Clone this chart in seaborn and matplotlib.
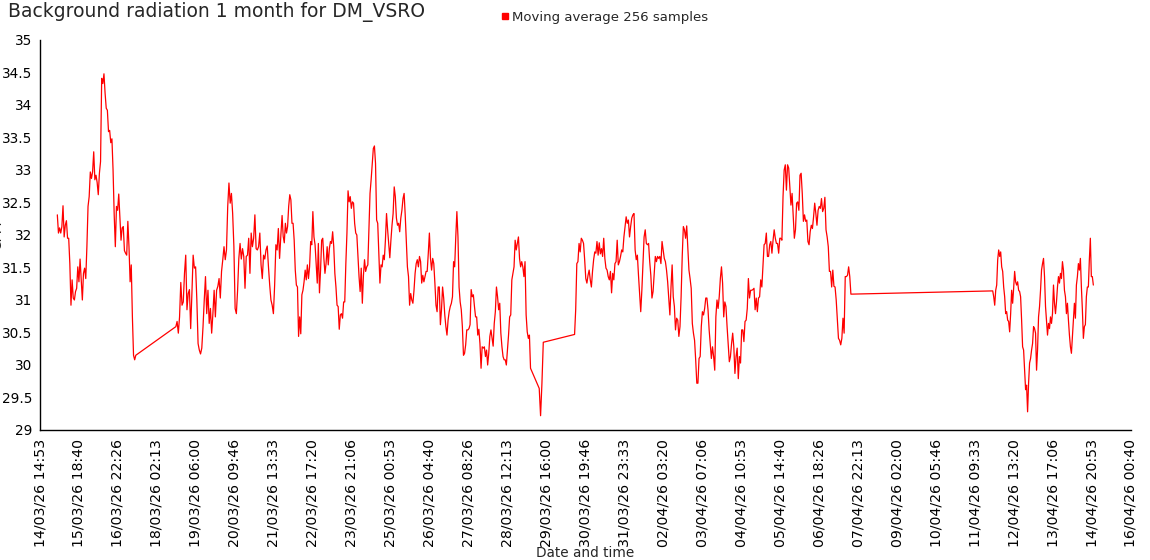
import numpy as np
import pandas as pd
import matplotlib
matplotlib.use("Agg")
import matplotlib.pyplot as plt
import matplotlib.dates as mdates
from matplotlib.lines import Line2D
import seaborn as sns

# ---------------- data ----------------
title = "Background radiation 1 month for DM_VSRO"
series_name = "Moving average 256 samples"
x_label = "Date and time"
y_label = "CPM"

# recording pieces (start, end) - samples evenly spaced in each piece
piece_starts = ["2026-03-15 03:14", "2026-03-18 15:44", "2026-03-21 18:41",
                "2026-03-29 10:47", "2026-03-30 11:59", "2026-04-05 14:59",
                "2026-04-11 22:05"]
piece_ends = ["2026-03-17 11:11", "2026-03-21 17:41", "2026-03-29 04:35",
              "2026-03-29 13:41", "2026-04-05 14:17", "2026-04-07 16:59",
              "2026-04-14 21:49"]

cpm_a = [32.31, 32.03, 32.11, 32.03, 32.13, 32.45, 31.97, 32.15, 32.22, 31.95, 31.95, 31.56, 30.92, 31.31,
         31.03, 31.0, 31.13, 31.18, 31.51, 31.28, 31.63, 31.31, 31.0, 31.41, 31.49, 31.33, 31.82, 32.44,
         32.59, 32.97, 32.87, 32.97, 33.28, 32.85, 32.92, 32.81, 32.62, 32.95, 33.13, 34.41, 34.33, 34.48,
         34.18, 33.95, 33.92, 33.59, 33.61, 33.42, 33.48, 33.0, 32.31, 31.82, 32.44, 32.38, 32.63, 32.28,
         31.92, 32.11, 32.13, 31.76, 31.72, 31.69, 32.21, 31.82, 31.28, 31.54, 30.74, 30.15, 30.08, 30.15]

cpm_b = [30.59, 30.67, 30.49, 30.74, 31.27, 30.92, 30.97, 31.41, 31.69, 30.85, 31.1, 31.16, 30.56, 31.1,
         31.69, 31.49, 31.51, 31.0, 30.33, 30.23, 30.17, 30.26, 30.59, 31.0, 31.36, 30.79, 31.15, 30.64,
         30.87, 30.49, 30.79, 31.15, 30.74, 31.15, 31.21, 31.33, 31.03, 31.44, 31.62, 31.82, 31.62, 31.77,
         32.44, 32.8, 32.49, 32.64, 32.33, 31.82, 30.87, 30.79, 31.15, 31.64, 31.87, 31.63, 31.79, 31.67,
         31.18, 31.67, 31.69, 31.95, 31.41, 32.03, 31.82, 31.95, 32.31, 31.79, 31.77, 31.82, 32.03, 31.54,
         31.33, 31.69, 31.63, 31.77, 31.83, 31.51, 31.23, 31.0, 30.92, 30.79, 31.23, 31.85, 31.77, 32.1, 31.64]

cpm_c = [32.03, 32.3, 31.98, 31.88, 32.18, 32.03, 32.13, 32.44, 32.62, 32.54, 32.18, 32.18, 31.92, 31.46,
         31.23, 31.2, 30.44, 30.74, 30.48, 31.08, 31.15, 31.28, 31.46, 31.31, 31.54, 31.33, 31.51, 31.9,
         31.85, 32.36, 31.97, 31.85, 31.56, 31.26, 31.87, 31.11, 31.46, 31.92, 31.95, 31.64, 31.41, 31.56,
         31.82, 31.54, 31.79, 31.9, 31.87, 32.05, 31.82, 31.41, 31.2, 30.92, 30.9, 30.55, 30.77, 30.79,
         30.72, 30.97, 30.97, 31.56, 32.03, 32.68, 32.51, 32.59, 32.41, 32.51, 32.49, 32.18, 32.03, 32.0,
         31.67, 31.36, 31.13, 31.49, 30.95, 31.38, 31.62, 31.44, 31.51, 31.54, 32.08, 32.64, 32.85, 33.1,
         33.33, 33.37, 33.1, 32.23, 32.18, 31.74, 31.26, 31.54, 31.51, 31.69, 31.62, 31.92, 32.33, 32.08,
         31.87, 31.65, 31.92, 32.15, 32.33, 32.74, 32.59, 32.26, 32.15, 32.18, 32.05, 32.26, 32.38, 32.56,
         32.64, 32.31, 31.92, 31.51, 31.36, 30.92, 31.1, 31.0, 30.95, 31.15, 31.41, 31.56, 31.62, 31.51,
         31.67, 31.59, 31.26, 31.38, 31.28, 31.36, 31.44, 31.44, 31.72, 32.03, 31.64, 31.46, 31.64, 31.56,
         31.26, 30.92, 30.82, 31.2, 31.2, 30.62, 30.85, 31.2, 31.03, 30.77, 30.59, 30.46, 30.69, 30.82,
         30.9, 30.95, 31.05, 31.59, 31.51, 31.97, 32.36, 31.97, 31.2, 30.97, 30.85, 30.59, 30.15, 30.18,
         30.31, 30.54, 30.54, 30.56, 30.62, 31.16, 31.05, 31.08, 30.9, 30.74, 30.74, 30.46, 30.55, 30.33,
         29.95, 30.28, 30.26, 30.28, 30.13, 30.23, 30.0, 30.18, 30.44, 30.54, 30.41, 30.29, 30.64, 30.82,
         31.2, 31.05, 30.85, 30.95, 30.49, 30.28, 30.13, 30.08, 30.08, 30.0, 30.23, 30.46, 30.74, 30.77,
         31.31, 31.41, 31.51, 31.92, 31.77, 31.87, 31.97, 31.64, 31.51, 31.59, 31.51, 31.36, 31.59, 30.77,
         30.51, 30.41, 30.46, 29.95]

cpm_d = [29.64, 29.22, 29.72, 30.35]

cpm_e = [30.47, 30.85, 31.56, 31.59, 31.87, 31.74, 31.95, 31.92, 31.87, 31.62, 31.33, 31.26, 31.38, 31.46,
         31.31, 31.2, 31.44, 31.62, 31.74, 31.72, 31.9, 31.69, 31.88, 31.71, 31.79, 31.67, 31.95, 31.64,
         31.49, 31.46, 31.36, 31.31, 31.44, 31.11, 31.41, 31.31, 31.56, 31.59, 31.92, 31.54, 31.59, 31.67,
         31.77, 31.74, 31.97, 32.13, 32.28, 32.18, 32.23, 31.97, 32.13, 32.26, 32.31, 32.33, 31.77, 31.62,
         31.69, 31.38, 31.11, 30.82, 31.15, 31.56, 31.97, 32.08, 31.87, 31.85, 31.87, 31.59, 31.38, 31.03,
         31.13, 31.41, 31.67, 31.59, 31.67, 31.64, 31.67, 31.56, 31.9, 31.77, 31.64, 31.59, 31.46, 31.28,
         31.03, 30.77, 31.2, 31.54, 31.05, 30.9, 30.54, 30.72, 30.69, 30.44, 30.59, 31.05, 31.67, 32.13,
         32.08, 31.95, 32.14, 31.79, 31.46, 31.33, 31.18, 30.64, 30.49, 30.38, 30.08, 29.72, 29.72, 30.1,
         30.13, 30.59, 30.82, 30.77, 30.87, 31.03, 31.03, 30.85, 30.54, 30.33, 30.1, 30.28, 30.13, 29.92,
         30.74, 31.0, 30.87, 31.05, 31.33, 31.51, 31.26, 30.74, 30.97, 30.9, 30.59, 30.33, 30.05, 30.13,
         30.33, 30.49, 30.28, 29.87, 30.13, 30.26, 29.79, 30.13, 30.03, 30.54, 30.54, 30.36, 30.67, 30.69,
         30.87, 31.33, 31.03, 31.15, 31.15, 31.16, 31.18, 30.85, 31.03, 30.82, 31.03, 31.05, 31.31, 31.2,
         31.51, 31.85, 31.87, 32.03, 31.67, 31.67, 31.85, 31.9, 31.72, 31.92, 32.08, 31.95, 31.87, 31.87,
         31.72, 31.95]

cpm_f = [31.95, 31.92, 32.59, 33.0, 33.08, 32.69, 33.08, 33.03, 32.74, 32.46, 32.64, 32.28, 31.95, 32.08,
         32.49, 32.51, 32.38, 32.92, 32.95, 32.64, 32.21, 32.31, 32.21, 32.23, 31.9, 31.85, 32.05, 32.15,
         32.1, 32.28, 32.49, 32.33, 32.15, 32.38, 32.44, 32.41, 32.56, 32.36, 32.41, 32.58, 32.08, 31.97,
         31.82, 31.44, 31.44, 31.2, 31.46, 31.21, 31.2, 31.0, 30.69, 30.41, 30.38, 30.31, 30.41, 30.72,
         30.49, 31.36, 31.36, 31.38, 31.51, 31.36, 31.09]

cpm_g = [31.14, 31.05, 30.92, 31.15, 31.23, 31.62, 31.77, 31.67, 31.74, 31.51, 31.44, 31.2, 31.05, 30.79,
         30.82, 30.69, 30.67, 30.51, 30.79, 31.15, 30.95, 31.18, 31.44, 31.28, 31.23, 31.28, 31.15, 31.13,
         31.05, 30.69, 30.28, 30.23, 29.92, 29.62, 29.69, 29.28, 29.72, 30.03, 30.1, 30.23, 30.33, 30.59,
         30.56, 30.49, 29.92, 30.23, 30.74, 30.9, 31.15, 31.46, 31.56, 31.64, 31.36, 30.9, 30.67, 30.46,
         30.64, 30.56, 30.74, 30.64, 30.79, 31.23, 30.95, 30.79, 30.97, 31.2, 31.36, 31.26, 31.41, 31.33,
         31.59, 31.46, 31.15, 31.05, 30.79, 30.95, 30.69, 30.46, 30.28, 30.18, 30.44, 30.69, 30.95, 30.72,
         31.23, 31.36, 31.56, 31.46, 31.64, 31.2, 30.85, 30.41, 30.59, 30.62, 31.05, 31.2, 31.2, 31.62,
         31.95, 31.36, 31.36, 31.23]

x_start = "2026-03-14 14:53"
x_end = "2026-04-16 00:40"
x_tick_labels = ["14/03/26 14:53", "15/03/26 18:40", "16/03/26 22:26", "18/03/26 02:13",
                 "19/03/26 06:00", "20/03/26 09:46", "21/03/26 13:33", "22/03/26 17:20",
                 "23/03/26 21:06", "25/03/26 00:53", "26/03/26 04:40", "27/03/26 08:26",
                 "28/03/26 12:13", "29/03/26 16:00", "30/03/26 19:46", "31/03/26 23:33",
                 "02/04/26 03:20", "03/04/26 07:06", "04/04/26 10:53", "05/04/26 14:40",
                 "06/04/26 18:26", "07/04/26 22:13", "09/04/26 02:00", "10/04/26 05:46",
                 "11/04/26 09:33", "12/04/26 13:20", "13/04/26 17:06", "14/04/26 20:53",
                 "16/04/26 00:40"]
y_ticks = [29, 29.5, 30, 30.5, 31, 31.5, 32, 32.5, 33, 33.5, 34, 34.5, 35]
y_tick_labels = ["29", "29.5", "30", "30.5", "31", "31.5", "32", "32.5", "33", "33.5", "34", "34.5", "35"]

# ---------------- build frame ----------------
pieces = [cpm_a, cpm_b, cpm_c, cpm_d, cpm_e, cpm_f, cpm_g]
times = np.concatenate([pd.date_range(s, e, periods=len(v)).values
                        for s, e, v in zip(piece_starts, piece_ends, pieces)])
values = np.concatenate([np.asarray(v, float) for v in pieces])
df = pd.DataFrame({"time": pd.to_datetime(times), "cpm": values})

# ---------------- plot ----------------
sns.set_style("white")
plt.rcParams["font.family"] = ["DejaVu Sans"]

fig = plt.figure(figsize=(11.5, 5.6), dpi=100)
ax = fig.add_axes([40 / 1150, 130 / 560, 1091 / 1150, 390 / 560])

sns.lineplot(data=df, x="time", y="cpm", ax=ax, color="#ff0000", linewidth=0.9,
             estimator=None, sort=False)

t0 = mdates.date2num(pd.Timestamp(x_start).to_pydatetime())
t1 = mdates.date2num(pd.Timestamp(x_end).to_pydatetime())
ax.set_xlim(t0, t1)
ax.set_xticks(np.linspace(t0, t1, len(x_tick_labels)))
ax.set_xticklabels(x_tick_labels, rotation=90, fontsize=10.2)
ax.set_ylim(29, 35)
ax.set_yticks(y_ticks)
ax.set_yticklabels(y_tick_labels, fontsize=9.8)

for side in ["top", "right"]:
    ax.spines[side].set_visible(False)
for side in ["left", "bottom"]:
    ax.spines[side].set_color("black")
    ax.spines[side].set_linewidth(1.0)
ax.tick_params(axis="both", direction="inout", length=7, width=0.8, color="black",
               labelcolor="black")
ax.tick_params(axis="x", pad=3)
ax.tick_params(axis="y", pad=2)
ax.grid(False)

ax.set_xlabel(x_label, fontsize=9.8, labelpad=-1)
ax.set_ylabel(y_label, fontsize=9.8)
ax.yaxis.set_label_coords(-0.033, 0.5)

fig.text(8 / 1150, 1 - 17 / 560, title, fontsize=13.5, va="baseline", ha="left")

handle = Line2D([], [], color="#ff0000", marker="s", linestyle="none", markersize=5)
fig.legend([handle], [series_name], loc="center", bbox_to_anchor=(604 / 1150, 1 - 17 / 560),
           frameon=False, fontsize=9.5, handletextpad=0.1, handlelength=0.8,
           borderpad=0, borderaxespad=0)

fig.savefig("out.png", dpi=100)
